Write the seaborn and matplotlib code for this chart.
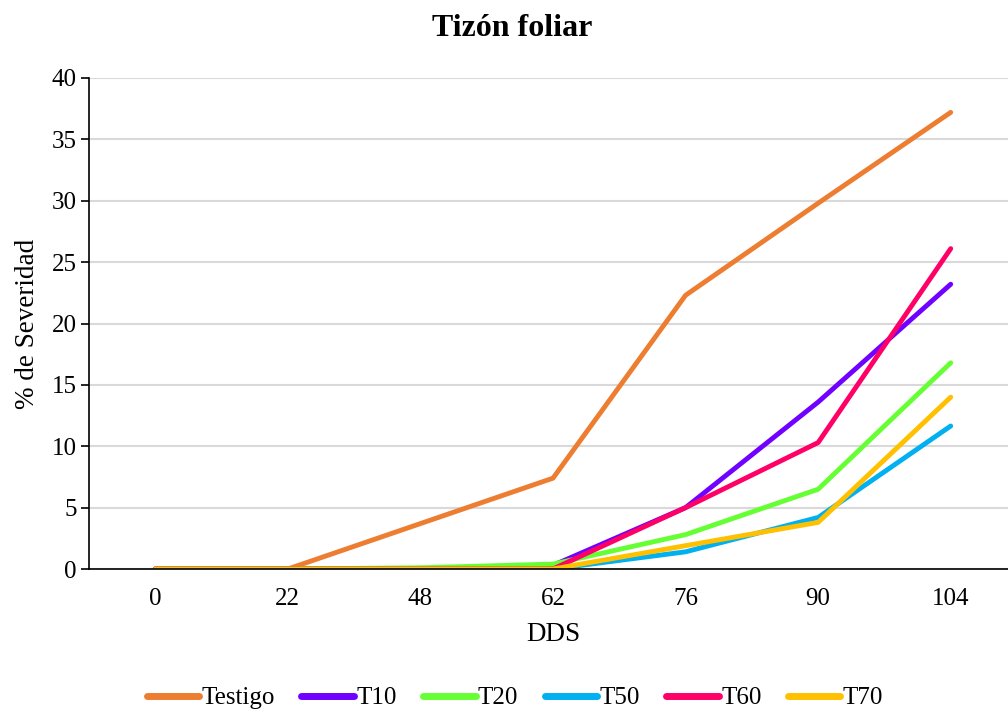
import numpy as np
import pandas as pd
import matplotlib
matplotlib.use("Agg")
import matplotlib.pyplot as plt
import seaborn as sns

dds = ["0", "22", "48", "62", "76", "90", "104"]
testigo = [0, 0, 3.7, 7.4, 22.3, 29.8, 37.2]
t10 = [0, 0, 0, 0.3, 5.0, 13.6, 23.2]
t20 = [0, 0, 0.1, 0.4, 2.8, 6.5, 16.8]
t50 = [0, 0, 0, 0, 1.4, 4.2, 11.65]
t60 = [0, 0, 0, 0, 5.0, 10.3, 26.1]
t70 = [0, 0, 0, 0, 1.9, 3.8, 14.0]

series = {"Testigo": testigo, "T10": t10, "T20": t20,
          "T50": t50, "T60": t60, "T70": t70}
colors = {"Testigo": "#ED7D31", "T10": "#7000FF", "T20": "#66FF33",
          "T50": "#00B0F0", "T60": "#FF0066", "T70": "#FFC000"}

rows = []
for name, vals in series.items():
    for i, v in enumerate(vals):
        rows.append({"pos": i, "valor": v, "Tratamiento": name})
df = pd.DataFrame(rows)

sns.set_theme(style="white")
plt.rcParams["font.family"] = ["Liberation Serif", "DejaVu Serif"]
plt.rcParams["text.color"] = "black"
plt.rcParams["axes.labelcolor"] = "black"
plt.rcParams["xtick.color"] = "black"
plt.rcParams["ytick.color"] = "black"

fig = plt.figure(figsize=(10.08, 7.13), dpi=100)
W, H = 1008, 713
ax = fig.add_axes([89 / W, 1 - 569 / H, (1017 - 89) / W, (569 - 78) / H])

sns.lineplot(data=df, x="pos", y="valor", hue="Tratamiento",
             palette=colors, linewidth=3.5, ax=ax, legend=True,
             solid_capstyle="round", solid_joinstyle="round")

ax.set_xlim(-0.5, len(dds) - 0.5)
ax.set_ylim(0, 40)
ax.set_yticks(np.arange(0, 41, 5))
ax.set_yticklabels([str(v) for v in range(0, 41, 5)], fontsize=18)
ax.set_xticks(range(len(dds)))
ax.set_xticklabels(dds, fontsize=18)
ax.set_xticks(np.arange(-0.5, len(dds) - 0.5, 1), minor=True)
ax.tick_params(axis="x", which="major", length=0, pad=14)
ax.tick_params(axis="x", which="minor", length=6, width=1.2, color="black", direction="out")
ax.tick_params(axis="y", which="major", length=6, width=1.2, color="black",
               direction="out", left=True, pad=3)

ax.yaxis.grid(True, color="#d9d9d9", linewidth=1.5)
ax.xaxis.grid(False)
ax.set_axisbelow(True)
for s in ["top", "right"]:
    ax.spines[s].set_visible(False)
for s in ["left", "bottom"]:
    ax.spines[s].set_color("black")
    ax.spines[s].set_linewidth(1.2)

ax.set_xlabel("DDS", fontsize=19.5, labelpad=8)
ax.set_ylabel("% de Severidad", fontsize=19.5, labelpad=8)
fig.text(512 / W, 1 - 28 / H, "Tizón foliar", ha="center", va="center",
         fontsize=23, fontweight="bold", color="black")

handles, labels = ax.get_legend_handles_labels()
leg = ax.legend(handles, labels, loc="center", bbox_to_anchor=(515 / W, 1 - 698 / H),
                bbox_transform=fig.transFigure, ncol=6, frameon=False,
                fontsize=18, handlelength=2.1, handletextpad=0.1, columnspacing=1.05)
for line in leg.get_lines():
    line.set_linewidth(5)
    line.set_solid_capstyle("round")

fig.savefig("out.png", dpi=100)
